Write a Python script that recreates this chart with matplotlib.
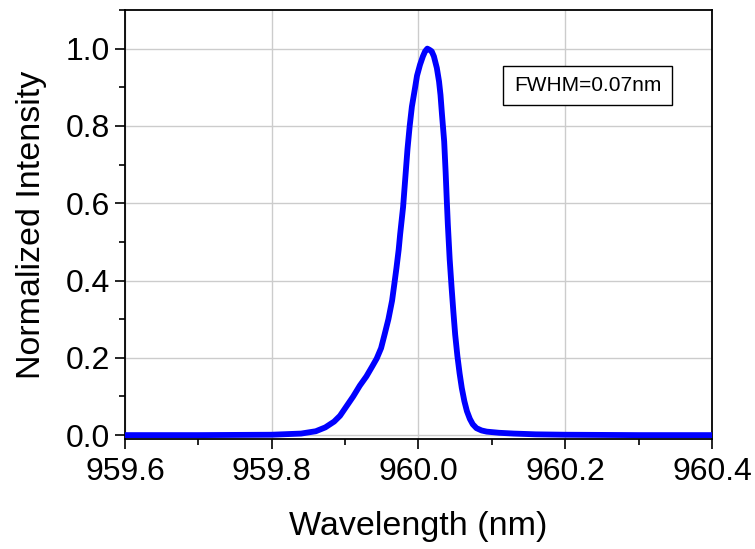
import matplotlib
matplotlib.use("Agg")
from matplotlib import pyplot as plt
from matplotlib.ticker import MultipleLocator

plt.rcParams['font.family'] = ['Liberation Sans', 'DejaVu Sans']

# spectrum
wavelength = [959.6, 959.7, 959.8, 959.84, 959.86, 959.873, 959.885, 959.893, 959.902,
              959.911, 959.92, 959.929, 959.937, 959.943, 959.949, 959.954, 959.959,
              959.964, 959.967, 959.970, 959.973, 959.975, 959.977, 959.979, 959.981,
              959.983, 959.985, 959.988, 959.991, 959.995, 959.998, 960.002, 960.006,
              960.009, 960.012, 960.015, 960.018, 960.021, 960.025, 960.028, 960.030,
              960.032, 960.035, 960.037, 960.0385, 960.040, 960.0425, 960.045, 960.0475,
              960.050, 960.053, 960.056, 960.059, 960.0625, 960.066, 960.070, 960.074,
              960.079, 960.086, 960.093, 960.11, 960.13, 960.16, 960.2, 960.3, 960.4]
intensity = [0.0, 0.0, 0.001, 0.004, 0.01, 0.02, 0.035, 0.05, 0.075,
             0.10, 0.128, 0.152, 0.178, 0.198, 0.225, 0.262, 0.30,
             0.348, 0.39, 0.433, 0.48, 0.52, 0.555, 0.59, 0.64,
             0.69, 0.74, 0.80, 0.85, 0.895, 0.93, 0.958, 0.98,
             0.993, 1.0, 0.997, 0.993, 0.98, 0.95, 0.915, 0.88,
             0.83, 0.76, 0.68, 0.61, 0.545, 0.455, 0.385, 0.32,
             0.26, 0.205, 0.16, 0.122, 0.088, 0.062, 0.042, 0.028,
             0.018, 0.012, 0.009, 0.006, 0.004, 0.002, 0.001, 0.0, 0.0]
xticks = [959.6, 959.8, 960.0, 960.2, 960.4]
yticks = [0.0, 0.2, 0.4, 0.6, 0.8, 1.0]

fig = plt.figure(figsize=(7.55, 5.49), dpi=100)
ax = fig.add_axes([0.1656, 0.2004, 0.7774, 0.7814])

ax.plot(wavelength, intensity, color=(0, 0, 1), lw=4.2, zorder=3)

ax.set_xlim(959.6, 960.4)
ax.set_ylim(-0.01, 1.1)
ax.set_xticks(xticks)
ax.set_xticklabels(["%.1f" % v for v in xticks])
ax.set_yticks(yticks)
ax.set_yticklabels(["%.1f" % v for v in yticks])
ax.xaxis.set_minor_locator(MultipleLocator(0.1))
ax.yaxis.set_minor_locator(MultipleLocator(0.1))
ax.tick_params(which='major', direction='out', length=7, width=1.2, labelsize=23, pad=4)
ax.tick_params(axis='x', which='major', pad=6)
ax.tick_params(which='minor', direction='out', length=4, width=1.2)
ax.grid(True, which='major', color='#cccccc', lw=1)
ax.set_axisbelow(True)
for s in ax.spines.values():
    s.set_linewidth(1.3)

ax.set_xlabel("Wavelength (nm)", fontsize=24.5, labelpad=17)
ax.set_ylabel("Normalized Intensity", fontsize=24.5, labelpad=13)

ax.text(0.788, 0.824, "FWHM=0.07nm", transform=ax.transAxes, ha='center', va='center',
        fontsize=15, bbox=dict(boxstyle='square,pad=0.5', fc='white', ec='black', lw=1))

fig.savefig("out.png", dpi=100)
